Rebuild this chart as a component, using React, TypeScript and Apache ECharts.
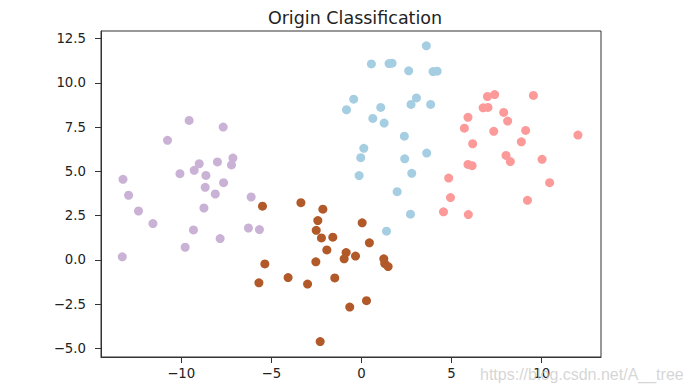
import React, { useEffect, useRef } from "react";
import * as echarts from "echarts";

const purplePoints: [number, number][] = [
  [-13.23, 4.55], [-12.92, 3.65], [-12.37, 2.76], [-11.57, 2.05], [-13.27, 0.17],
  [-10.76, 6.75], [-9.56, 7.88], [-7.67, 7.5], [-10.07, 4.87], [-9.28, 5.06],
  [-9.0, 5.43], [-8.63, 4.77], [-7.99, 5.53], [-7.13, 5.75], [-7.21, 5.36],
  [-8.67, 4.1], [-7.65, 4.36], [-8.11, 3.72], [-8.74, 2.93], [-6.12, 3.55],
  [-9.32, 1.69], [-7.84, 1.2], [-9.78, 0.71], [-6.27, 1.8], [-5.66, 1.71],
];

const brownPoints: [number, number][] = [
  [-5.49, 3.03], [-3.36, 3.23], [-2.14, 2.86], [-2.42, 2.22], [-2.51, 1.67],
  [-2.22, 1.24], [-1.59, 1.28], [0.04, 2.09], [0.44, 0.96], [-1.92, 0.56],
  [-0.85, 0.41], [-0.96, 0.06], [-0.33, 0.21], [1.24, 0.06], [1.29, -0.21],
  [1.48, -0.38], [-2.53, -0.11], [-5.36, -0.23], [-5.69, -1.3], [-4.07, -1.0],
  [-2.99, -1.37], [-1.48, -1.02], [0.28, -2.31], [-0.65, -2.67], [-2.29, -4.62],
];

const bluePoints: [number, number][] = [
  [3.6, 12.09], [0.55, 11.07], [1.53, 11.09], [1.7, 11.11], [2.62, 10.68],
  [3.97, 10.64], [4.2, 10.66], [-0.43, 9.08], [-0.83, 8.48], [1.07, 8.61],
  [0.63, 7.99], [1.26, 7.73], [3.05, 9.15], [2.75, 8.78], [3.84, 8.78],
  [2.38, 6.99], [0.13, 6.3], [-0.04, 5.77], [2.4, 5.71], [3.62, 6.03],
  [-0.13, 4.76], [2.79, 4.89], [1.98, 3.85], [2.72, 2.58], [1.39, 1.62],
];

const pinkPoints: [number, number][] = [
  [6.99, 9.23], [7.39, 9.34], [9.54, 9.29], [6.75, 8.59], [7.02, 8.61],
  [7.89, 8.33], [8.11, 7.84], [5.91, 8.05], [5.71, 7.44], [7.34, 7.26],
  [9.11, 7.31], [12.01, 7.05], [6.17, 6.56], [8.87, 6.67], [8.02, 5.9],
  [8.26, 5.55], [5.91, 5.39], [6.14, 5.32], [10.02, 5.68], [4.84, 4.62],
  [10.44, 4.36], [4.94, 3.52], [9.21, 3.36], [4.55, 2.71], [5.93, 2.56],
];

const xTicks = [-10, -5, 0, 5, 10];
const yTicks = [-5, -2.5, 0, 2.5, 5, 7.5, 10, 12.5];

const titleText = "Origin Classification";
const watermark = "https://blog.csdn.net/A__tree";

const fmtMinus = (s: string) => s.replace("-", "\u2212");

export default function App() {
  const ref = useRef<HTMLDivElement>(null);
  useEffect(() => {
    if (!ref.current) return;
    const chart = echarts.init(ref.current, undefined, { renderer: "svg" });
    const axisColor = "#333";
    const font = "DejaVu Sans";
    const mk = (data: [number, number][], color: string) => ({
      type: "scatter" as const,
      data,
      symbol: "circle",
      symbolSize: 9,
      itemStyle: { color, opacity: 1 },
      emphasis: { disabled: true },
    });
    chart.setOption({
      animation: false,
      backgroundColor: "#fff",
      title: {
        text: titleText,
        left: 350,
        textAlign: "center",
        top: 4,
        textStyle: { fontFamily: font, fontSize: 17.5, fontWeight: "normal", color: "#222" },
      },
      grid: {
        left: 101,
        right: 88,
        top: 31,
        bottom: 35,
        containLabel: false,
        show: true,
        borderColor: axisColor,
        borderWidth: 1,
      },
      xAxis: {
        type: "value",
        min: -14.45,
        max: 13.29,
        splitLine: { show: false },
        axisLine: { show: true, onZero: false, lineStyle: { color: axisColor, width: 1 } },
        axisTick: { show: true, inside: false, length: 6, customValues: xTicks, lineStyle: { color: axisColor } },
        axisLabel: {
          customValues: xTicks,
          margin: 10,
          fontFamily: font,
          fontSize: 13.3,
          color: "#222",
          formatter: (v: number) => fmtMinus(String(v)),
        },
      },
      yAxis: {
        type: "value",
        min: -5.49,
        max: 12.93,
        splitLine: { show: false },
        axisLine: { show: true, onZero: false, lineStyle: { color: axisColor, width: 1 } },
        axisTick: { show: true, inside: false, length: 6, customValues: yTicks, lineStyle: { color: axisColor } },
        axisLabel: {
          customValues: yTicks,
          margin: 15,
          fontFamily: font,
          fontSize: 13.3,
          color: "#222",
          formatter: (v: number) => fmtMinus(v.toFixed(1)),
        },
      },
      series: [
        mk(purplePoints, "#cab2d6"),
        mk(brownPoints, "#b15928"),
        mk(bluePoints, "#a6cee3"),
        mk(pinkPoints, "#fb9a99"),
      ],
      graphic: [
        {
          type: "text",
          z: 100,
          left: 480,
          top: 366,
          style: {
            text: watermark,
            fontFamily: "Liberation Sans",
            fontSize: 16,
            fill: "rgba(200,200,200,0.75)",
          },
        },
      ],
    });
    return () => chart.dispose();
  }, []);
  return (
    <div
      ref={ref}
      style={{ position: "fixed", left: 0, top: 0, width: 689, height: 392 }}
    />
  );
}
